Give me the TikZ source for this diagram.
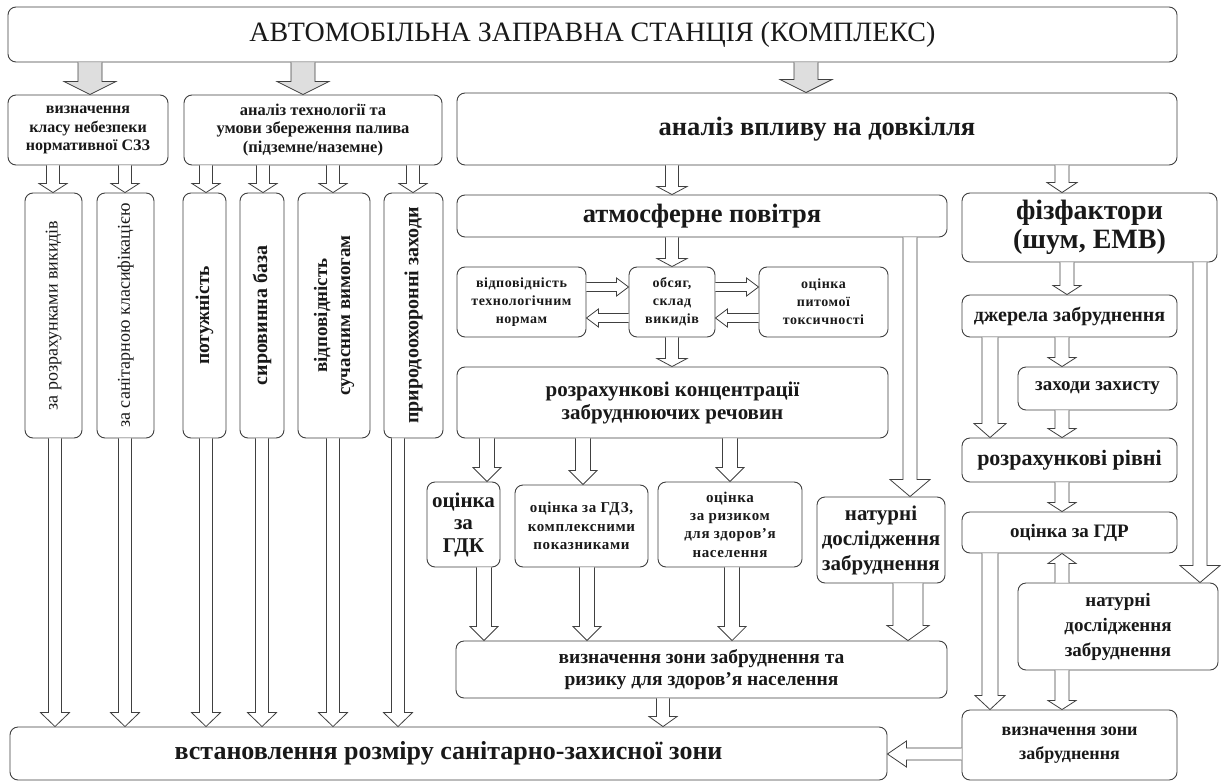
\documentclass[tikz,border=0pt]{standalone}
\usepackage{fontspec}
\setmainfont{Liberation Serif}
\newfontfamily\spf{Liberation Serif}[LetterSpace=4]
\usetikzlibrary{calc}
\newcommand\fs[2]{\fontsize{#1}{#2}\selectfont}
\tikzset{
  box/.style={draw=black!75, line width=0.9pt, rounded corners=8pt, fill=white, align=center, inner sep=0pt, text=black!90},
  arr/.style={draw=black!75, line width=0.8pt, fill=white, line join=miter},
  garr/.style={arr, fill=black!13},
}
% box: [opts]{name}{x1}{y1}{x2}{y2}{text}
\newcommand\bx[7][]{\node[box, minimum width={#5pt-#3pt}, minimum height={#6pt-#4pt}, #1] (#2) at ({(#3+#5)/2},{(#4+#6)/2}) {#7};}
\newcommand\vbx[7][]{\node[box, rotate=90, minimum width={#6pt-#4pt}, minimum height={#5pt-#3pt}, #1] (#2) at ({(#3+#5)/2},{(#4+#6)/2}) {#7};}
% arrows: [opts]{x or y}{from}{to}{shaft half width}{head half width}{head length}
\newcommand\darr[7][]{\draw[arr,#1] let \p1=#3, \p2=#4 in
  ({#2pt-#5pt},\y1) -- ({#2pt-#5pt},{\y2+#7pt}) -- ({#2pt-#6pt},{\y2+#7pt}) -- ({#2pt},\y2) -- ({#2pt+#6pt},{\y2+#7pt}) -- ({#2pt+#5pt},{\y2+#7pt}) -- ({#2pt+#5pt},\y1);}
\newcommand\uarr[7][]{\draw[arr,#1] let \p1=#3, \p2=#4 in
  ({#2pt-#5pt},\y1) -- ({#2pt-#5pt},{\y2-#7pt}) -- ({#2pt-#6pt},{\y2-#7pt}) -- ({#2pt},\y2) -- ({#2pt+#6pt},{\y2-#7pt}) -- ({#2pt+#5pt},{\y2-#7pt}) -- ({#2pt+#5pt},\y1);}
\newcommand\rarr[7][]{\draw[arr,#1] let \p1=#3, \p2=#4 in
  (\x1,{-#2pt+#5pt}) -- ({\x2-#7pt},{-#2pt+#5pt}) -- ({\x2-#7pt},{-#2pt+#6pt}) -- (\x2,{-#2pt}) -- ({\x2-#7pt},{-#2pt-#6pt}) -- ({\x2-#7pt},{-#2pt-#5pt}) -- (\x1,{-#2pt-#5pt});}
\newcommand\larr[7][]{\draw[arr,#1] let \p1=#3, \p2=#4 in
  (\x1,{-#2pt+#5pt}) -- ({\x2+#7pt},{-#2pt+#5pt}) -- ({\x2+#7pt},{-#2pt+#6pt}) -- (\x2,{-#2pt}) -- ({\x2+#7pt},{-#2pt-#6pt}) -- ({\x2+#7pt},{-#2pt-#5pt}) -- (\x1,{-#2pt-#5pt});}
\begin{document}
\begin{tikzpicture}[x=1pt,y=-1pt]
\useasboundingbox[fill=white] (0,0) rectangle (1223,781);
% boxes
\bx[font=\fs{28}{32}]{top}{8}{7}{1177}{62}{АВТОМОБІЛЬНА ЗАПРАВНА СТАНЦІЯ (КОМПЛЕКС)}
\bx[font=\bfseries\fs{16}{18.3}]{A}{8}{95}{168}{165}{визначення\\класу небезпеки\\нормативної СЗЗ}
\bx[font=\bfseries\fs{16.5}{18.3}]{B}{184}{95}{442}{165}{аналіз технології та\\умови збереження палива\\(підземне/наземне)}
\bx[font=\bfseries\fs{26.5}{30}]{C}{457}{93}{1177}{165}{аналіз впливу на довкілля}
\vbx[font=\fs{18}{22}]{v1}{25}{193}{82}{438}{за розрахунками викидів}
\vbx[font=\fs{18}{22}]{v2}{97}{193}{154}{438}{за санітарною класифікацією}
\vbx[font=\bfseries\fs{19.5}{22}]{v3}{183}{193}{226}{438}{потужність}
\vbx[font=\bfseries\fs{20}{22}]{v4}{240}{193}{284}{438}{сировинна база}
\vbx[font=\bfseries\fs{19}{23}]{v5}{298}{193}{370}{438}{відповідність\\сучасним вимогам}
\vbx[font=\bfseries\fs{20}{22}]{v6}{384}{193}{443}{438}{природоохоронні заходи}
\bx[font=\bfseries\fs{26.5}{30}]{atm}{457}{195}{947}{237}{атмосферне повітря}
\bx[font=\bfseries\fs{28}{29}]{fiz}{962}{193}{1217}{262}{фізфактори\\(шум, ЕМВ)}
\bx[font=\bfseries\spf\fs{14}{18}]{vidp}{457}{267}{586}{337}{відповідність\\технологічним\\нормам}
\bx[font=\bfseries\spf\fs{14}{18}]{obs}{629}{267}{715}{337}{обсяг,\\склад\\викидів}
\bx[font=\bfseries\spf\fs{14}{18}]{tox}{759}{267}{888}{337}{оцінка\\питомої\\токсичності}
\bx[font=\bfseries\fs{21}{23}]{conc}{457}{367}{888}{438}{розрахункові концентрації\\забруднюючих речовин}
\bx[font=\bfseries\fs{21}{22.5}]{gdk}{427}{482}{500}{567}{оцінка\\за\\ГДК}
\bx[font=\bfseries\spf\fs{15}{18.5}]{gdz}{515}{485}{648}{567}{оцінка за ГДЗ,\\комплексними\\показниками}
\bx[font=\bfseries\spf\fs{15}{18.3}]{risk}{658}{482}{802}{567}{оцінка\\за ризиком\\для здоров’я\\населення}
\bx[font=\bfseries\fs{21}{25}]{natA}{817}{497}{945}{583}{натурні\\дослідження\\забруднення}
\bx[font=\bfseries\fs{19.5}{22}]{zoneA}{456}{641}{947}{698}{визначення зони забруднення та\\ризику для здоров’я населення}
\bx[font=\bfseries\fs{26}{30}]{szz}{10}{727}{887}{780}{встановлення розміру санітарно-захисної зони}
\bx[font=\bfseries\fs{20}{22}]{src}{962}{295}{1177}{337}{джерела забруднення}
\bx[font=\bfseries\fs{19}{22}]{prot}{1018}{367}{1177}{410}{заходи захисту}
\bx[font=\bfseries\fs{22}{24}]{lev}{962}{438}{1177}{482}{розрахункові рівні}
\bx[font=\bfseries\fs{19}{22}]{gdr}{962}{512}{1177}{553}{оцінка за ГДР}
\bx[font=\bfseries\fs{19}{25}]{natR}{1018}{583}{1218}{670}{натурні\\дослідження\\забруднення}
\bx[font=\bfseries\fs{18}{24}]{zoneR}{962}{710}{1177}{780}{визначення зони\\забруднення}
% top gray arrows
\darr[garr]{90}{(top.south)}{(A.north)}{12}{26}{13}
\darr[garr]{303}{(top.south)}{(B.north)}{12}{26}{13}
\darr[garr]{806}{(top.south)}{(C.north)}{12}{26}{13}
% left column
\darr{53}{(A.south)}{(v1.east)}{6.5}{14}{9}
\darr{125}{(A.south)}{(v2.east)}{6.5}{14}{9}
\darr{206}{(B.south)}{(v3.east)}{6.5}{14}{9}
\darr{263}{(B.south)}{(v4.east)}{6.5}{14}{9}
\darr{333}{(B.south)}{(v5.east)}{6.5}{14}{9}
\darr{413}{(B.south)}{(v6.east)}{6.5}{14}{9}
\darr{55}{(v1.west)}{(szz.north)}{6.5}{14.5}{14}
\darr{125}{(v2.west)}{(szz.north)}{6.5}{14.5}{14}
\darr{206}{(v3.west)}{(szz.north)}{6.5}{14.5}{14}
\darr{262}{(v4.west)}{(szz.north)}{6.5}{14.5}{14}
\darr{333}{(v5.west)}{(szz.north)}{6.5}{14.5}{14}
\darr{398}{(v6.west)}{(szz.north)}{6.5}{14.5}{14}
% atmosphere branch
\darr{672}{(C.south)}{(atm.north)}{6.5}{15}{8}
\darr{672}{(atm.south)}{(obs.north)}{6.5}{15}{8}
\rarr{287}{(vidp.east)}{(obs.west)}{4.5}{9}{12}
\larr{318}{(obs.west)}{(vidp.east)}{4.5}{9}{12}
\rarr{287}{(obs.east)}{(tox.west)}{4.5}{9}{12}
\larr{318}{(tox.west)}{(obs.east)}{4.5}{9}{12}
\darr{672}{(obs.south)}{(conc.north)}{6.5}{15}{8}
\darr{487}{(conc.south)}{(gdk.north)}{7.5}{14}{14}
\darr{583}{(conc.south)}{(gdz.north)}{7.5}{14}{14}
\darr{730}{(conc.south)}{(risk.north)}{7.5}{14}{14}
\darr{910}{(atm.south)}{(natA.north)}{7}{20}{17}
\darr{484}{(gdk.south)}{(zoneA.north)}{7.5}{14}{14}
\darr{587}{(gdz.south)}{(zoneA.north)}{7.5}{14}{14}
\darr{732}{(risk.south)}{(zoneA.north)}{7.5}{14}{14}
\darr{908}{(natA.south)}{(zoneA.north)}{15}{21}{15}
\darr{663}{(zoneA.south)}{(szz.north)}{6.5}{14}{10}
% physical factors branch
\darr{1062}{(C.south)}{(fiz.north)}{7}{15}{10}
\darr{1067}{(fiz.south)}{(src.north)}{7}{14}{9}
\darr{1062}{(src.south)}{(prot.north)}{7}{14}{9}
\darr{990}{(src.south)}{(lev.north)}{8}{16}{14}
\darr{1062}{(prot.south)}{(lev.north)}{7}{14}{9}
\darr{1200}{(fiz.south)}{(natR.north)}{7}{20}{17}
\darr{1062}{(lev.south)}{(gdr.north)}{7}{14}{9}
\uarr{1062}{(natR.north)}{(gdr.south)}{7}{14}{10}
\darr{990}{(gdr.south)}{(zoneR.north)}{8}{15}{14}
\darr{1062}{(natR.south)}{(zoneR.north)}{7}{14}{9}
\larr{754}{(zoneR.west)}{(szz.east)}{6}{13}{19}
\end{tikzpicture}
\end{document}
